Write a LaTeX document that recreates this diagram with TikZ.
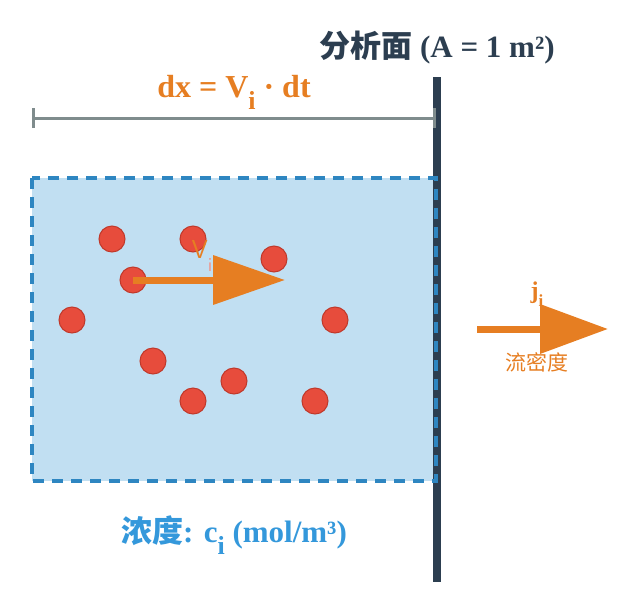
\documentclass[tikz,border=0pt]{standalone}
\usepackage{fontspec}
\setmainfont{Liberation Serif}
\newfontfamily\cjk{Noto Sans CJK SC}
\usetikzlibrary{arrows.meta}
\usetikzlibrary{positioning}
\definecolor{slate}{HTML}{2C3E50}
\definecolor{flowor}{HTML}{E67E22}
\definecolor{rulegray}{HTML}{7F8C8D}
\definecolor{boxfill}{HTML}{C1DFF2}
\definecolor{boxline}{HTML}{2E86C1}
\definecolor{labblue}{HTML}{3498DB}
\definecolor{partred}{HTML}{E74C3C}
\definecolor{partdark}{HTML}{C0392B}
\definecolor{subpink}{HTML}{F1948A}

\begin{document}
\begin{tikzpicture}[x=1pt,y=-1pt,every node/.style={inner sep=0pt},
  particle/.style={circle,fill=partred,draw=partdark,line width=1pt,minimum size=26pt},
  flow/.style={draw=flowor,line width=7pt,-{Triangle[length=72pt,width=48pt]}}]

  \useasboundingbox (0,0) rectangle (622,611);

  % volume element
  \fill[boxfill] (32,178) rectangle (436,481);

  % plane
  \coordinate (planetop) at (436.5,77);
  \coordinate (planebot) at (436.5,582);
  \draw[slate,line width=8pt] (planetop) -- (planebot);

  \draw[boxline,line width=3.5pt,dash pattern=on 11pt off 8pt] (32,178) rectangle (436,481);

  % dx bracket
  \coordinate (dxL) at (32,118);
  \coordinate (dxR) at (436,118);
  \draw[rulegray,line width=3pt,{Bar[width=20pt]}-{Bar[width=20pt]}] (dxL) -- (dxR);

  % particles
  \foreach \n/\px/\py in {1/112/239,2/193/239,3/133/280,4/274/259,5/72/320,
                         6/335/320,7/153/361,8/234/381,9/193/401,10/315/401}
    \node[particle] (p\n) at (\px,\py) {};

  % velocity
  \coordinate (vtip) at (285,280);
  \draw[flow] (p3.center) -- (vtip);
  \node[text=flowor,font=\sffamily\fontsize{26}{26}\selectfont,anchor=base] (vlab) at (202,258)
    {V\raisebox{-0.5em}{\textcolor{subpink}{\fontsize{20}{20}\selectfont i}}};

  % flux
  \coordinate (jtail) at (477,329);
  \coordinate (jtip) at (608,329);
  \draw[flow,-{Triangle[length=68pt,width=48pt]}] (jtail) -- (jtip);
  \node[text=flowor,font=\bfseries\fontsize{24}{24}\selectfont,anchor=base] (jlab) at (537,298)
    {j\raisebox{-0.35em}{\fontsize{17}{17}\selectfont i}};
  \node[text=flowor,font=\cjk\fontsize{21}{21}\selectfont] (jname) at (537,362) {流密度};

  % labels
  \node[text=slate,font=\bfseries\fontsize{31}{31}\selectfont,anchor=base] (title) at (437,57)
    {{\cjk 分析面} (A = 1 m²)};
  \node[text=flowor,font=\bfseries\fontsize{32}{32}\selectfont,anchor=base] (dxlab) at (234,97)
    {dx = V\raisebox{-0.4em}{\fontsize{26}{26}\selectfont i} · dt};
  \node[text=labblue,font=\bfseries\fontsize{31}{31}\selectfont,anchor=base] (clab) at (234,542)
    {{\cjk 浓度}: c\raisebox{-0.4em}{\fontsize{26}{26}\selectfont i} (mol/m³)};

\end{tikzpicture}
\end{document}
